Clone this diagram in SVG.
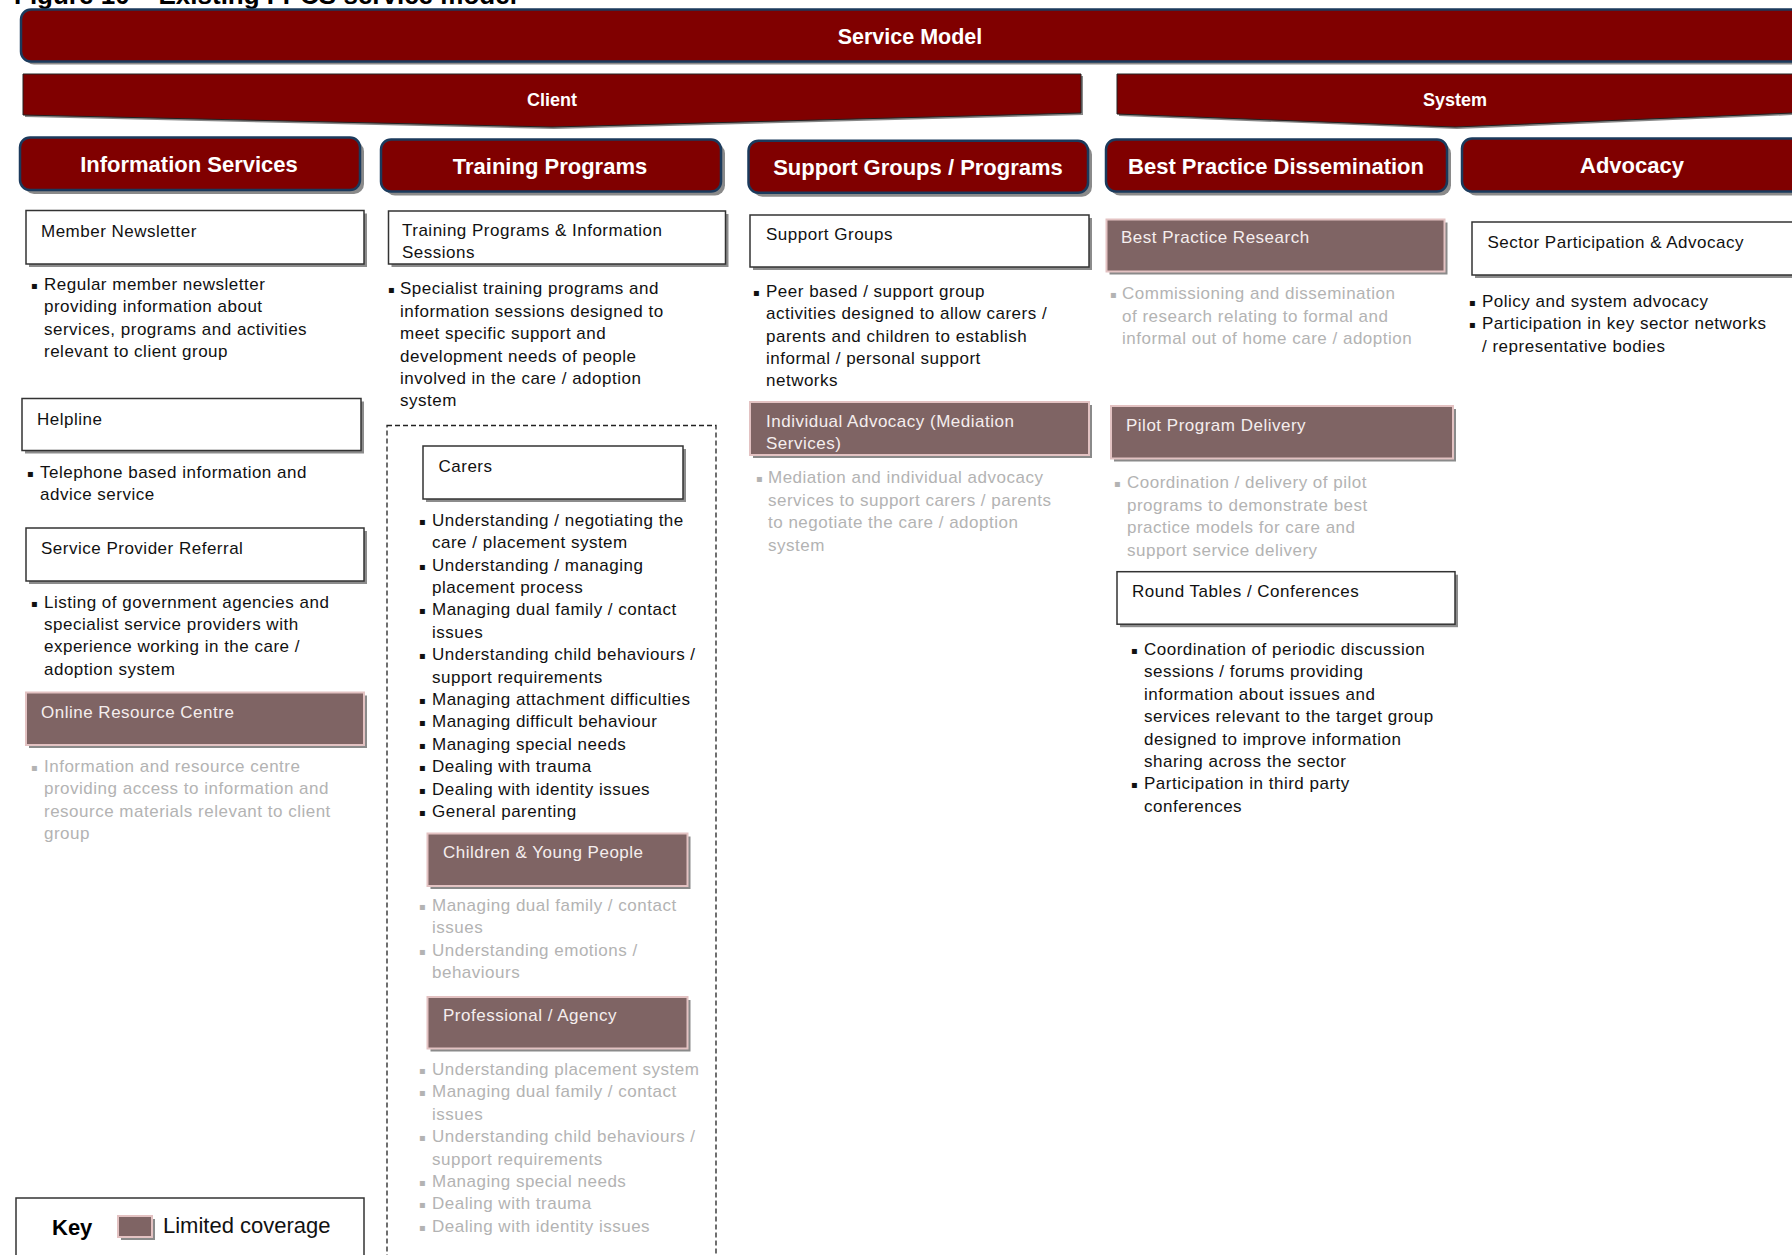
<svg xmlns="http://www.w3.org/2000/svg" width="1792" height="1255" viewBox="0 0 1792 1255">
<style>
.hdr{fill:#800000;stroke:#1b3a5c;stroke-width:2.5}
.hsh{fill:#8a8a8a}
.sh{fill:#8c8c8c}
.wb{fill:#fff;stroke:#333;stroke-width:1.5}
.lb{fill:#7f6464;stroke:#e3c2c2;stroke-width:2}
.lsh{fill:#3c3c3c;opacity:.6}
.ht{font-family:"Liberation Sans",Arial,sans-serif;font-weight:bold;fill:#fff;text-anchor:middle}
.tx{font-family:"Liberation Sans",Arial,sans-serif;font-size:17px;letter-spacing:0.5px;fill:#111}
.gr{fill:#b3b3b3}
.wt{fill:#f5eeee}
.bu{font-family:"DejaVu Sans",sans-serif;font-size:10px;letter-spacing:0}
.dash{fill:none;stroke:#222;stroke-width:1.3;stroke-dasharray:5 3}
</style>
<rect width="1792" height="1255" fill="#fff"/>
<text x="14" y="4" font-family="'Liberation Sans',Arial,sans-serif" font-size="26" font-weight="bold" fill="#000">Figure 10 – Existing FPCS service model</text>

<g id="service-model">
<rect class="hsh" x="24" y="12.5" width="1790" height="52" rx="10"/>
<rect class="hdr" x="21" y="9.5" width="1790" height="52" rx="10"/>
<text class="ht" x="910" y="43.5" font-size="21.5">Service Model</text>
</g>
<g id="client">
<polygon points="25,76 1083,76 1083,115 554,129 25,117" fill="#888"/>
<polygon points="23,74 1081,74 1081,113 552,127 23,115" fill="#800000" stroke="#222" stroke-width="1"/>
<text class="ht" x="552" y="106" font-size="18">Client</text>
</g>
<g id="system">
<polygon points="1119,76 1795,76 1795,115 1457,129 1119,116" fill="#888"/>
<polygon points="1117,74 1793,74 1793,113 1455,127 1117,114" fill="#800000" stroke="#222" stroke-width="1"/>
<text class="ht" x="1455" y="105.5" font-size="18">System</text>
</g>

<g id="hdr-information-services">
<rect class="hsh" x="24" y="141.5" width="340" height="52.5" rx="10"/>
<rect class="hdr" x="20" y="137.5" width="340" height="52.5" rx="10"/>
<text class="ht" x="189" y="171.7" font-size="22">Information Services</text>
</g>
<g id="hdr-training-programs">
<rect class="hsh" x="385" y="143.5" width="340" height="52" rx="10"/>
<rect class="hdr" x="381" y="139.5" width="340" height="52" rx="10"/>
<text class="ht" x="550" y="173.5" font-size="22">Training Programs</text>
</g>
<g id="hdr-support-groups">
<rect class="hsh" x="752.5" y="144.7" width="339.5" height="52" rx="10"/>
<rect class="hdr" x="748.5" y="140.7" width="339.5" height="52" rx="10"/>
<text class="ht" x="918" y="174.9" font-size="22">Support Groups / Programs</text>
</g>
<g id="hdr-best-practice">
<rect class="hsh" x="1110" y="143.5" width="341" height="52" rx="10"/>
<rect class="hdr" x="1106" y="139.5" width="341" height="52" rx="10"/>
<text class="ht" x="1276" y="173.5" font-size="22">Best Practice Dissemination</text>
</g>
<g id="hdr-advocacy">
<rect class="hsh" x="1466" y="142.5" width="340" height="53" rx="10"/>
<rect class="hdr" x="1462" y="138.5" width="340" height="53" rx="10"/>
<text class="ht" x="1632" y="172.7" font-size="22">Advocacy</text>
</g>

<!-- Column 1 -->
<g id="member-newsletter">
<rect class="sh" x="29" y="213.5" width="338" height="53.5"/>
<rect class="wb" x="26" y="210.5" width="338" height="53.5"/>
<text class="tx" x="41" y="236.5">Member Newsletter</text>
<text class="tx"><tspan class="bu" x="31" y="289">▪</tspan><tspan x="44" y="290">Regular member newsletter</tspan><tspan x="44" y="312.4">providing information about</tspan><tspan x="44" y="334.8">services, programs and activities</tspan><tspan x="44" y="357.2">relevant to client group</tspan></text>
</g>
<g id="helpline">
<rect class="sh" x="25" y="401.5" width="339" height="52"/>
<rect class="wb" x="22" y="398.5" width="339" height="52"/>
<text class="tx" x="37" y="425">Helpline</text>
<text class="tx"><tspan class="bu" x="27" y="477">▪</tspan><tspan x="40" y="478">Telephone based information and</tspan><tspan x="40" y="500.4">advice service</tspan></text>
</g>
<g id="service-provider-referral">
<rect class="sh" x="29" y="531" width="338" height="53"/>
<rect class="wb" x="26" y="528" width="338" height="53"/>
<text class="tx" x="41" y="554">Service Provider Referral</text>
<text class="tx"><tspan class="bu" x="31" y="606.6">▪</tspan><tspan x="44" y="607.6">Listing of government agencies and</tspan><tspan x="44" y="630">specialist service providers with</tspan><tspan x="44" y="652.4">experience working in the care /</tspan><tspan x="44" y="674.8">adoption system</tspan></text>
</g>
<g id="online-resource-centre">
<rect class="lsh" x="29" y="695.5" width="338" height="52.5"/>
<rect class="lb" x="26" y="692.5" width="338" height="52.5"/>
<text class="tx wt" x="41" y="718">Online Resource Centre</text>
<text class="tx gr"><tspan class="bu" x="31" y="770.7">▪</tspan><tspan x="44" y="771.7">Information and resource centre</tspan><tspan x="44" y="794.1">providing access to information and</tspan><tspan x="44" y="816.5">resource materials relevant to client</tspan><tspan x="44" y="838.9">group</tspan></text>
</g>
<g id="key">
<rect x="16" y="1198" width="348" height="80" fill="#fff" stroke="#333" stroke-width="1.5"/>
<text x="52" y="1235" font-family="'Liberation Sans',Arial,sans-serif" font-size="22" font-weight="bold" fill="#000">Key</text>
<rect class="lsh" x="121" y="1219" width="34" height="21"/>
<rect class="lb" x="118" y="1216" width="34" height="21"/>
<text x="163" y="1233" font-family="'Liberation Sans',Arial,sans-serif" font-size="22" fill="#111">Limited coverage</text>
</g>

<!-- Column 2 -->
<g id="training-programs-sessions">
<rect class="sh" x="391.5" y="214" width="337" height="53"/>
<rect class="wb" x="388.5" y="211" width="337" height="53"/>
<text class="tx"><tspan x="402" y="236">Training Programs &amp; Information</tspan><tspan x="402" y="258.4">Sessions</tspan></text>
<text class="tx"><tspan class="bu" x="388" y="293.3">▪</tspan><tspan x="400" y="294.3">Specialist training programs and</tspan><tspan x="400" y="316.7">information sessions designed to</tspan><tspan x="400" y="339.1">meet specific support and</tspan><tspan x="400" y="361.5">development needs of people</tspan><tspan x="400" y="383.9">involved in the care / adoption</tspan><tspan x="400" y="406.3">system</tspan></text>
</g>
<g id="audience-group">
<rect class="dash" x="387" y="425.5" width="329" height="860"/>
</g>
<g id="carers">
<rect class="sh" x="426" y="449" width="260" height="53"/>
<rect class="wb" x="423" y="446" width="260" height="53"/>
<text class="tx" x="438.5" y="471.7">Carers</text>
<text class="tx"><tspan class="bu" x="419" y="524.7">▪</tspan><tspan x="432" y="525.7">Understanding / negotiating the</tspan><tspan x="432" y="548.1">care / placement system</tspan><tspan class="bu" x="419" y="569.5">▪</tspan><tspan x="432" y="570.5">Understanding / managing</tspan><tspan x="432" y="592.9">placement process</tspan><tspan class="bu" x="419" y="614.3">▪</tspan><tspan x="432" y="615.3">Managing dual family / contact</tspan><tspan x="432" y="637.7">issues</tspan><tspan class="bu" x="419" y="659.1">▪</tspan><tspan x="432" y="660.1">Understanding child behaviours /</tspan><tspan x="432" y="682.5">support requirements</tspan><tspan class="bu" x="419" y="703.9">▪</tspan><tspan x="432" y="704.9">Managing attachment difficulties</tspan><tspan class="bu" x="419" y="726.3">▪</tspan><tspan x="432" y="727.3">Managing difficult behaviour</tspan><tspan class="bu" x="419" y="748.7">▪</tspan><tspan x="432" y="749.7">Managing special needs</tspan><tspan class="bu" x="419" y="771.1">▪</tspan><tspan x="432" y="772.1">Dealing with trauma</tspan><tspan class="bu" x="419" y="793.5">▪</tspan><tspan x="432" y="794.5">Dealing with identity issues</tspan><tspan class="bu" x="419" y="815.9">▪</tspan><tspan x="432" y="816.9">General parenting</tspan></text>
</g>
<g id="children-young-people">
<rect class="lsh" x="430.5" y="836.5" width="260" height="52.5"/>
<rect class="lb" x="427.5" y="833.5" width="260" height="52.5"/>
<text class="tx wt" x="443" y="858.3">Children &amp; Young People</text>
<text class="tx gr"><tspan class="bu" x="419" y="909.7">▪</tspan><tspan x="432" y="910.7">Managing dual family / contact</tspan><tspan x="432" y="933.1">issues</tspan><tspan class="bu" x="419" y="954.5">▪</tspan><tspan x="432" y="955.5">Understanding emotions /</tspan><tspan x="432" y="977.9">behaviours</tspan></text>
</g>
<g id="professional-agency">
<rect class="lsh" x="430.5" y="1000" width="260" height="51.5"/>
<rect class="lb" x="427.5" y="997" width="260" height="51.5"/>
<text class="tx wt" x="443" y="1020.7">Professional / Agency</text>
<text class="tx gr"><tspan class="bu" x="419" y="1074">▪</tspan><tspan x="432" y="1075">Understanding placement system</tspan><tspan class="bu" x="419" y="1096.4">▪</tspan><tspan x="432" y="1097.4">Managing dual family / contact</tspan><tspan x="432" y="1119.8">issues</tspan><tspan class="bu" x="419" y="1141.2">▪</tspan><tspan x="432" y="1142.2">Understanding child behaviours /</tspan><tspan x="432" y="1164.6">support requirements</tspan><tspan class="bu" x="419" y="1186">▪</tspan><tspan x="432" y="1187">Managing special needs</tspan><tspan class="bu" x="419" y="1208.4">▪</tspan><tspan x="432" y="1209.4">Dealing with trauma</tspan><tspan class="bu" x="419" y="1230.8">▪</tspan><tspan x="432" y="1231.8">Dealing with identity issues</tspan></text>
</g>

<!-- Column 3 -->
<g id="support-groups">
<rect class="sh" x="753" y="218" width="339" height="52"/>
<rect class="wb" x="750" y="215" width="339" height="52"/>
<text class="tx" x="766" y="240">Support Groups</text>
<text class="tx"><tspan class="bu" x="753" y="295.7">▪</tspan><tspan x="766" y="296.7">Peer based / support group</tspan><tspan x="766" y="319.1">activities designed to allow carers /</tspan><tspan x="766" y="341.5">parents and children to establish</tspan><tspan x="766" y="363.9">informal / personal support</tspan><tspan x="766" y="386.3">networks</tspan></text>
</g>
<g id="individual-advocacy">
<rect class="lsh" x="753" y="405" width="339" height="53"/>
<rect class="lb" x="750" y="402" width="339" height="53"/>
<text class="tx wt"><tspan x="766" y="426.7">Individual Advocacy (Mediation</tspan><tspan x="766" y="448.5">Services)</tspan></text>
<text class="tx gr"><tspan class="bu" x="756" y="482.3">▪</tspan><tspan x="768" y="483.3">Mediation and individual advocacy</tspan><tspan x="768" y="505.7">services to support carers / parents</tspan><tspan x="768" y="528.1">to negotiate the care / adoption</tspan><tspan x="768" y="550.5">system</tspan></text>
</g>

<!-- Column 4 -->
<g id="best-practice-research">
<rect class="lsh" x="1109.5" y="222.5" width="338" height="52"/>
<rect class="lb" x="1106.5" y="219.5" width="338" height="52"/>
<text class="tx wt" x="1121" y="243.3">Best Practice Research</text>
<text class="tx gr"><tspan class="bu" x="1110" y="298.3">▪</tspan><tspan x="1122" y="299.3">Commissioning and dissemination</tspan><tspan x="1122" y="321.7">of research relating to formal and</tspan><tspan x="1122" y="344.1">informal out of home care / adoption</tspan></text>
</g>
<g id="pilot-program-delivery">
<rect class="lsh" x="1114" y="409" width="342" height="52.5"/>
<rect class="lb" x="1111" y="406" width="342" height="52.5"/>
<text class="tx wt" x="1126" y="430.7">Pilot Program Delivery</text>
<text class="tx gr"><tspan class="bu" x="1114" y="487.3">▪</tspan><tspan x="1127" y="488.3">Coordination / delivery of pilot</tspan><tspan x="1127" y="510.7">programs to demonstrate best</tspan><tspan x="1127" y="533.1">practice models for care and</tspan><tspan x="1127" y="555.5">support service delivery</tspan></text>
</g>
<g id="round-tables">
<rect class="sh" x="1120" y="574.7" width="338" height="52.5"/>
<rect class="wb" x="1117" y="571.7" width="338" height="52.5"/>
<text class="tx" x="1132" y="596.7">Round Tables / Conferences</text>
<text class="tx"><tspan class="bu" x="1131" y="654">▪</tspan><tspan x="1144" y="655">Coordination of periodic discussion</tspan><tspan x="1144" y="677.4">sessions / forums providing</tspan><tspan x="1144" y="699.8">information about issues and</tspan><tspan x="1144" y="722.2">services relevant to the target group</tspan><tspan x="1144" y="744.6">designed to improve information</tspan><tspan x="1144" y="767">sharing across the sector</tspan><tspan class="bu" x="1131" y="788.4">▪</tspan><tspan x="1144" y="789.4">Participation in third party</tspan><tspan x="1144" y="811.8">conferences</tspan></text>
</g>

<!-- Column 5 -->
<g id="sector-participation">
<rect class="sh" x="1475" y="225" width="340" height="53"/>
<rect class="wb" x="1472" y="222" width="340" height="53"/>
<text class="tx" x="1487.5" y="248.3">Sector Participation &amp; Advocacy</text>
<text class="tx"><tspan class="bu" x="1469" y="305.7">▪</tspan><tspan x="1482" y="306.7">Policy and system advocacy</tspan><tspan class="bu" x="1469" y="328.1">▪</tspan><tspan x="1482" y="329.1">Participation in key sector networks</tspan><tspan x="1482" y="351.5">/ representative bodies</tspan></text>
</g>

<g id="connectors"></g>
</svg>
